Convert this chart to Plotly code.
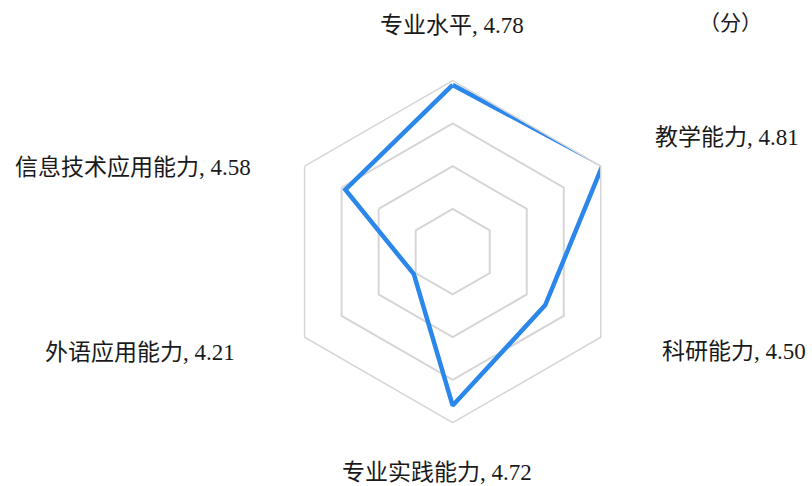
import plotly.graph_objects as go

categories = ["专业水平", "教学能力", "科研能力", "专业实践能力", "外语应用能力", "信息技术应用能力"]
values = [4.78, 4.81, 4.50, 4.72, 4.21, 4.58]
unit_label = "（分）"

# label placement (pixel centres in the 812x486 canvas)
label_pos = [(452, 26), (727, 138), (734, 351), (437, 472), (140, 352), (133, 167)]

W, H = 812, 486
cx, cy, R = 452.7, 251.7, 171

fig = go.Figure()
fig.add_trace(go.Scatterpolar(
    r=values + values[:1],
    theta=categories + categories[:1],
    mode="lines",
    line=dict(color="#2b87ea", width=4.5),
    cliponaxis=False,
    hoverinfo="skip",
    showlegend=False,
))

font_family = "Liberation Serif, Noto Sans CJK SC, serif"
annotations = []
for (c, v), (px, py) in zip(zip(categories, values), label_pos):
    annotations.append(dict(
        text=f"{c}, {v:.2f}", x=px / W, y=1 - py / H, xref="paper", yref="paper",
        xanchor="center", yanchor="middle", showarrow=False,
        font=dict(family=font_family, size=23, color="#1a1a1a"),
    ))
annotations.append(dict(
    text=unit_label, x=730 / W, y=1 - 23 / H, xref="paper", yref="paper",
    xanchor="center", yanchor="middle", showarrow=False,
    font=dict(family=font_family, size=21, color="#1a1a1a"),
))

fig.update_layout(
    width=W, height=H,
    margin=dict(l=0, r=0, t=0, b=0),
    paper_bgcolor="white",
    plot_bgcolor="white",
    font=dict(family=font_family),
    annotations=annotations,
    polar=dict(
        domain=dict(x=[(cx - R) / W, (cx + R) / W], y=[1 - (cy + R) / H, 1 - (cy - R) / H]),
        bgcolor="white",
        gridshape="linear",
        radialaxis=dict(
            range=[4.0, 4.8], tickvals=[4.2, 4.4, 4.6], showticklabels=False, ticks="",
            showline=False, gridcolor="#d6d6d6", gridwidth=1.5,
        ),
        angularaxis=dict(
            direction="clockwise", rotation=90, showgrid=False, showticklabels=False,
            ticks="", showline=True, linecolor="#d6d6d6", linewidth=1.5,
        ),
    ),
)

fig.write_html(
    "out.html",
    config={"displayModeBar": False},
    post_script="document.body.style.margin='0';document.body.style.overflow='hidden';",
)
